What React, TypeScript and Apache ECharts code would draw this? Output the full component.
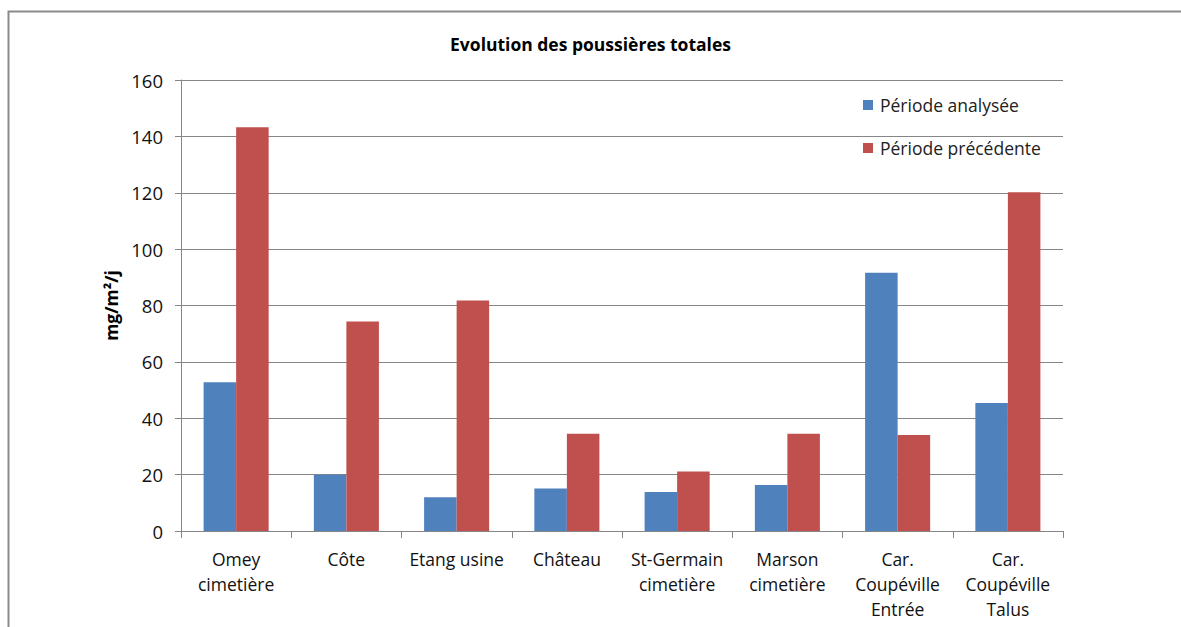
import React, { useEffect, useRef } from "react";
import * as echarts from "echarts";

const categories = [
  "Omey\ncimetière",
  "Côte",
  "Etang usine",
  "Château",
  "St-Germain\ncimetière",
  "Marson\ncimetière",
  "Car.\nCoupéville\nEntrée",
  "Car.\nCoupéville\nTalus",
];
const periodeAnalysee = [52.8, 20, 12, 15.1, 13.8, 16.3, 91.6, 45.4];
const periodePrecedente = [143.2, 74.3, 81.8, 34.5, 21.1, 34.5, 34.1, 120.2];
const yTicks = { min: 0, max: 160, interval: 20 };

const FONT = "'Open Sans', 'Noto Sans', sans-serif";

export default function App() {
  const ref = useRef<HTMLDivElement>(null);
  useEffect(() => {
    const chart = echarts.init(ref.current!, undefined, { renderer: "svg" });
    chart.setOption({
      animation: false,
      backgroundColor: "#fff",
      textStyle: { fontFamily: FONT },
      title: {
        text: "Evolution des poussières totales",
        left: "center",
        top: 30,
        textStyle: { fontSize: 17.5, fontWeight: "bold", color: "#000", fontFamily: FONT },
      },
      graphic: [
        {
          type: "rect",
          shape: { x: 8.5, y: 11.5, width: 1300, height: 700 },
          style: { fill: "none", stroke: "#8a8a8a", lineWidth: 2 },
          silent: true,
          z: 100,
        },
      ],
      legend: {
        orient: "vertical",
        left: 858,
        top: 91,
        itemWidth: 10,
        itemHeight: 10,
        itemGap: 25,
        icon: "rect",
        textStyle: { fontSize: 17.5, color: "#222", fontFamily: FONT, padding: [0, 0, 0, 2] },
        data: ["Période analysée", "Période précédente"],
      },
      grid: { left: 181, top: 80, right: 118, bottom: 96, containLabel: false },
      xAxis: {
        type: "category",
        data: categories,
        boundaryGap: true,
        axisLine: { lineStyle: { color: "#868686", width: 1 } },
        axisTick: { show: true, length: 7, lineStyle: { color: "#868686" } },
        axisLabel: {
          fontSize: 17.5,
          color: "#111",
          margin: 15,
          lineHeight: 25,
          fontFamily: FONT,
          interval: 0,
        },
      },
      yAxis: {
        type: "value",
        min: yTicks.min,
        max: yTicks.max,
        interval: yTicks.interval,
        name: "mg/m²/j",
        nameLocation: "middle",
        nameGap: 60,
        nameRotate: 90,
        nameTextStyle: { fontSize: 17.5, fontWeight: "bold", color: "#000", fontFamily: FONT },
        axisLine: { show: true, lineStyle: { color: "#868686" } },
        axisTick: { show: true, length: 6, lineStyle: { color: "#868686" } },
        axisLabel: { fontSize: 18.5, color: "#111", margin: 18, fontFamily: FONT },
        splitLine: { show: true, lineStyle: { color: "#868686", width: 1 } },
      },
      series: [
        {
          name: "Période analysée",
          type: "bar",
          data: periodeAnalysee,
          itemStyle: { color: "#4F81BD" },
          barGap: "0%",
          barCategoryGap: "41%",
        },
        {
          name: "Période précédente",
          type: "bar",
          data: periodePrecedente,
          itemStyle: { color: "#C0504D" },
          barGap: "0%",
          barCategoryGap: "41%",
        },
      ],
    });
    return () => chart.dispose();
  }, []);
  return (
    <div
      ref={ref}
      style={{ position: "absolute", left: 0, top: 0, width: 1181, height: 627 }}
    />
  );
}
